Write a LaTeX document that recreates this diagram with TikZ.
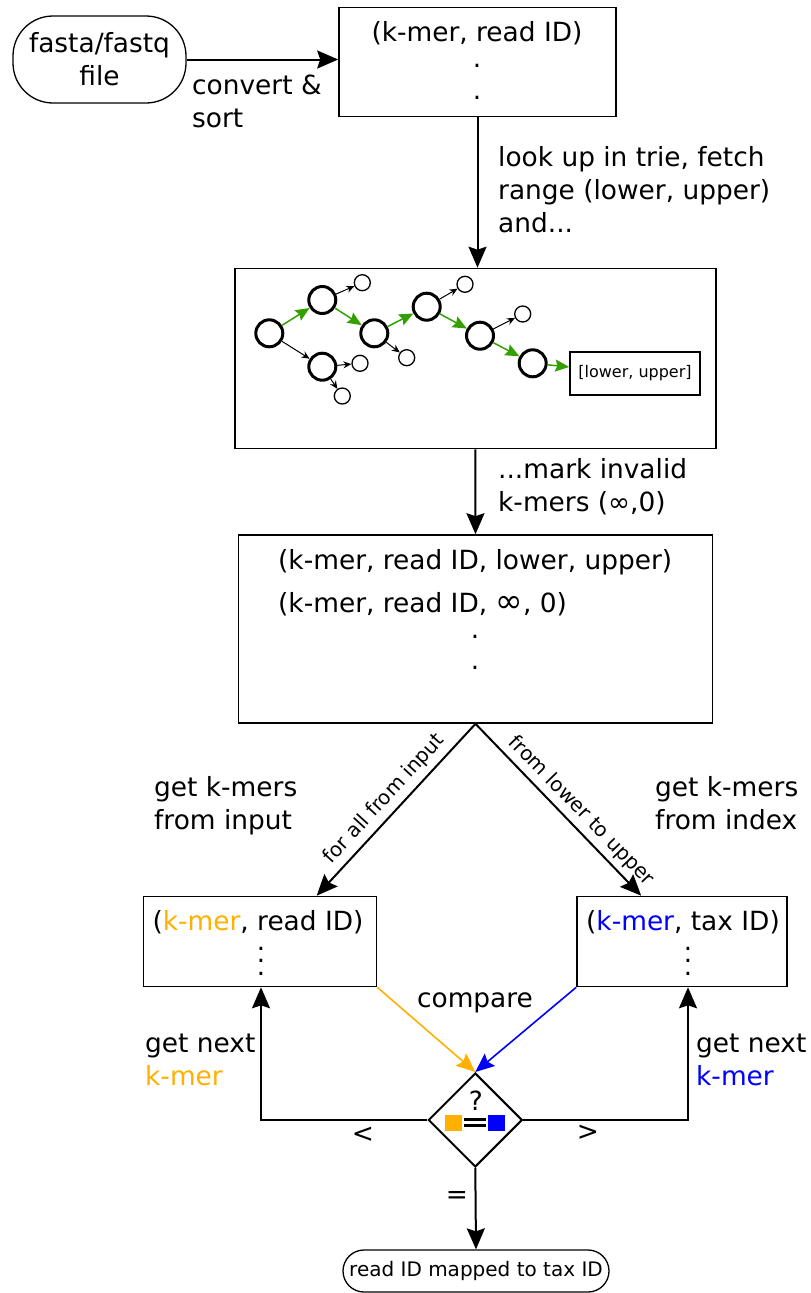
\documentclass[tikz,border=0pt]{standalone}
\usepackage{fontspec}
\setmainfont{DejaVu Sans}
\usetikzlibrary{arrows.meta,shapes.geometric,calc}
\definecolor{kmerorange}{RGB}{255,176,0}
\definecolor{kmerblue}{RGB}{0,0,255}
\definecolor{triegreen}{RGB}{51,160,0}
\begin{document}
\begin{tikzpicture}[x=1pt,y=-1pt,
  every node/.style={font=\fontsize{26.4}{33}\selectfont},
  box/.style={draw,line width=1.6pt,inner sep=0},
  term/.style={draw,line width=1.3pt,inner sep=2pt},
  flow/.style={line width=2pt,-{Stealth[length=21pt,width=18pt,inset=3pt]}},
  oflow/.style={kmerorange,line width=1.6pt,-{Stealth[length=19pt,width=16pt,inset=3pt]}},
  bflow/.style={kmerblue,line width=1.6pt,-{Stealth[length=19pt,width=16pt,inset=3pt]}},
  lbl/.style={align=left,anchor=west,inner sep=0},
  dot/.style={inner sep=0},
  diag/.style={font=\fontsize{20}{24}\selectfont,anchor=south,inner sep=5pt},
  big/.style={circle,draw,line width=3pt,minimum size=27pt,inner sep=0},
  small/.style={circle,draw,line width=1.3pt,minimum size=16pt,inner sep=0},
  gedge/.style={triegreen,line width=1.5pt,-{Stealth[length=14pt,width=12pt,inset=2pt]}},
  kedge/.style={line width=1pt,-{Stealth[length=8pt,width=7pt]}},
]
\useasboundingbox (0,0) rectangle (811,1293);

% input file and sorted k-mer list
\node[term,minimum width=173pt,minimum height=87pt,rounded corners=40pt,align=center] (fasta) at (99.5,59.5) {fasta/fastq\\file};
\node[box,minimum width=277pt,minimum height=109pt] (top) at (477.5,62) {};
\node (ttop) at (477,33) {(k-mer, read ID)};
\node[dot] (tdot1) at (477,66) {.};
\node[dot] (tdot2) at (477,98) {.};

% trie lookup
\node[box,minimum width=481pt,minimum height=180pt] (trie) at (475.4,358.5) {};
\node[big] (A) at (269.3,333.3) {};
\node[big] (B) at (322.3,300) {};
\node[big] (C) at (322.3,366.7) {};
\node[big] (D) at (374.3,333.3) {};
\node[big] (E) at (426.7,306.7) {};
\node[big] (F) at (480,335.7) {};
\node[big] (G) at (532.7,363.3) {};
\node[small] (s1) at (362.3,282.7) {};
\node[small] (s2) at (465,284.3) {};
\node[small] (s3) at (522.7,314) {};
\node[small] (s4) at (406.7,357.7) {};
\node[small] (s5) at (360,363.3) {};
\node[small] (s6) at (342.3,396) {};
\node[draw,line width=1.5pt,minimum width=130pt,minimum height=43pt,inner sep=0,font=\fontsize{16}{19}\selectfont] (lu) at (635,373.5) {[lower, upper]};
\draw[gedge] (A) -- (B);
\draw[gedge] (B) -- (D);
\draw[gedge] (D) -- (E);
\draw[gedge] (E) -- (F);
\draw[gedge] (F) -- (G);
\draw[gedge] (G) -- (lu);
\draw[kedge] (A) -- (C);
\draw[kedge] (B) -- (s1);
\draw[kedge] (C) -- (s5);
\draw[kedge] (C) -- (s6);
\draw[kedge] (D) -- (s4);
\draw[kedge] (E) -- (s2);
\draw[kedge] (F) -- (s3);

% k-mers with ranges
\node[box,minimum width=474pt,minimum height=188pt] (mid) at (475.5,629) {};
\node[anchor=west,inner sep=0] (m1) at (278,562) {(k-mer, read ID, lower, upper)};
\node[anchor=west,inner sep=0] (m2) at (278,604) {(k-mer, read ID, {\fontsize{33}{33}\selectfont ∞}, 0)};
\node[dot] (mdot1) at (475,637) {.};
\node[dot] (mdot2) at (475,668) {.};

% input and index k-mer lists
\node[box,minimum width=233pt,minimum height=90pt] (lbox) at (260,941.5) {};
\node (ltext) at (258,922) {(\textcolor{kmerorange}{k-mer}, read ID)};
\node[dot,align=center,font=\fontsize{26}{12.5}\selectfont] (ldots) at (261,961) {.\\.\\.};
\node[box,minimum width=210pt,minimum height=90pt] (rbox) at (682,941.5) {};
\node (rtext) at (683,922) {(\textcolor{kmerblue}{k-mer}, tax ID)};
\node[dot,align=center,font=\fontsize{26}{12.5}\selectfont] (rdots) at (688,961) {.\\.\\.};

% comparison
\node[draw,diamond,line width=2pt,minimum width=94pt,minimum height=94pt,inner sep=0] (dia) at (475.3,1120) {};
\node[inner sep=0] (q) at (476,1101) {?};
\fill[kmerorange] (445,1115) rectangle (461.5,1130.5);
\fill[kmerblue] (488,1115) rectangle (505,1130.5);
\fill (464.3,1118.3) rectangle (485.7,1121);
\fill (464.3,1124.3) rectangle (485.7,1127);

\node[term,minimum width=266pt,minimum height=42pt,rounded corners=21pt,font=\fontsize{20}{24}\selectfont] (final) at (476,1271) {read ID mapped to tax ID};

% connectors
\draw[flow] (fasta.east) -- (fasta.east -| top.west);
\draw[flow] (top.south) -- (top.south |- trie.north);
\draw[flow] (trie.south) -- (mid.north);
\coordinate (lin) at ($(lbox.north west)+(174,0)$);
\coordinate (rin) at ($(rbox.north west)+(65,0)$);
\draw[flow] (mid.south) -- node[diag,pos=0.5,rotate=47.6] (lab1) {for all from input} (lin);
\draw[flow] (mid.south) -- node[diag,pos=0.57,rotate=-45.8] (lab2) {from lower to upper} (rin);
\draw[oflow] (lbox.south east) -- (dia.north);
\draw[bflow] (rbox.south west) -- (dia.north);
\coordinate (lup) at ($(lbox.south)+(1,0)$);
\coordinate (rup) at ($(rbox.south)+(6,0)$);
\draw[flow] (dia.west) -| (lup);
\draw[flow] (dia.east) -| (rup);
\draw[flow] (dia.south) -- (final.north);

% labels
\node[lbl] (l1) at (192,101) {convert \&\\sort};
\node[lbl] (l2) at (498,190) {look up in trie, fetch\\range (lower, upper)\\and...};
\node[lbl] (l3) at (498,487) {...mark invalid\\k-mers (∞,0)};
\node[lbl] (l4) at (154,806) {get k-mers\\from input};
\node[lbl] (l5) at (655,803) {get k-mers\\from index};
\node[lbl] (l6) at (145,1060) {get next\\\textcolor{kmerorange}{k-mer}};
\node[lbl] (l7) at (696,1060) {get next\\\textcolor{kmerblue}{k-mer}};
\node (cmp) at (475,1003) {compare};
\node (lt) at (363,1135) {<};
\node (gt) at (588,1133) {>};
\node (eq) at (457,1197) {=};
\end{tikzpicture}
\end{document}
